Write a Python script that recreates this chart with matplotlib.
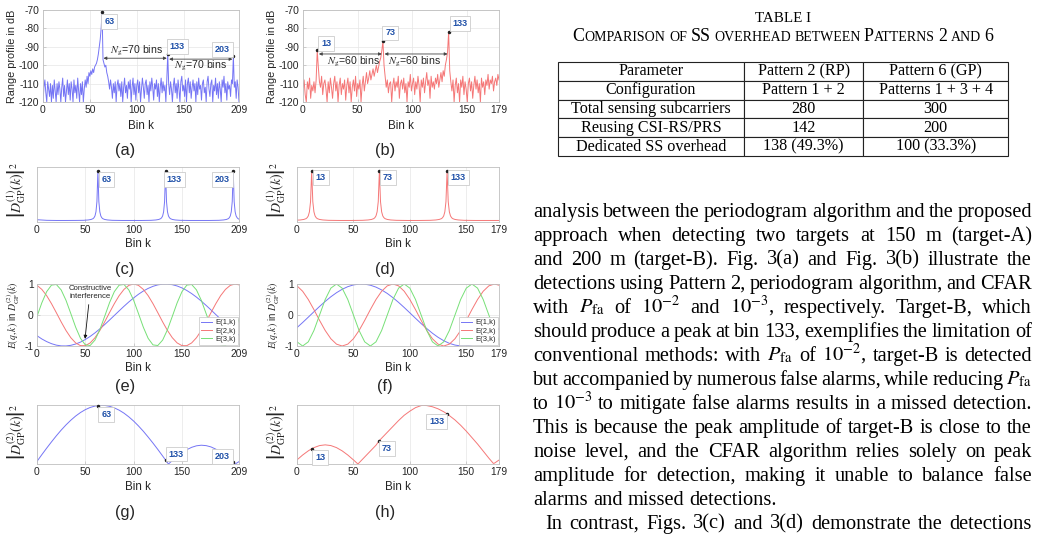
import numpy as np
import matplotlib
matplotlib.use("Agg")
import matplotlib.pyplot as plt

W, H = 1042, 535
plt.rcParams['font.family'] = ['Liberation Sans', 'DejaVu Sans']
plt.rcParams['mathtext.fontset'] = 'stix'
plt.rcParams['axes.unicode_minus'] = False

# ---------------------------------------------------------------- data
# (a) range profile, Pattern 2 (N = 210 bins), dB
range_a = [-120, -112, -108, -115, -120, -109, -113, -117, -110, -120,
           -111, -118, -108, -114, -120, -110, -116, -109, -113, -120,
           -112, -107, -117, -111, -120, -114, -108, -116, -110, -119,
           -109, -113, -120, -108, -115, -111, -118, -107, -114, -120,
           -110, -116, -109, -120, -113, -108, -112, -106, -110, -104,
           -106, -103, -105, -102, -104, -101, -100, -99, -97, -94,
           -90, -86, -80, -71, -97, -99, -101, -100, -104, -106,
           -109, -113, -108, -112, -118, -110, -115, -109, -120, -111,
           -108, -114, -110, -117, -109, -120, -112, -107, -115, -111,
           -118, -109, -113, -108, -120, -112, -107, -116, -110, -119,
           -111, -108, -115, -109, -120, -113, -107, -112, -118, -110,
           -108, -116, -111, -120, -109, -114, -107, -112, -119, -110,
           -113, -108, -117, -110, -120, -112, -107, -115, -109, -114,
           -111, -120, -108, -94, -110, -116, -109, -113, -120, -111,
           -107, -115, -110, -118, -108, -113, -120, -109, -106, -114,
           -111, -117, -108, -120, -110, -107, -115, -109, -118, -112,
           -108, -114, -110, -120, -109, -116, -107, -113, -111, -119,
           -110, -108, -115, -112, -120, -109, -106, -113, -117, -110,
           -108, -120, -111, -114, -107, -116, -110, -118, -109, -113,
           -120, -108, -112, -106, -115, -110, -119, -109, -113, -111,
           -117, -108, -110, -95, -112, -109, -118, -108, -112, -120]
peaks_a = [63, 133, 203]

# (b) range profile, N = 180 bins, dB
range_b = [-112, -108, -116, -120, -109, -113, -107, -118, -111, -114,
           -109, -115, -108, -92, -101, -109, -112, -106, -116, -110,
           -108, -113, -120, -109, -115, -107, -112, -118, -110, -106,
           -114, -109, -120, -111, -107, -116, -110, -113, -108, -119,
           -111, -107, -115, -109, -120, -112, -108, -114, -106, -117,
           -110, -113, -108, -120, -111, -106, -114, -109, -104, -110,
           -107, -103, -108, -105, -102, -106, -103, -100, -104, -101,
           -98, -96, -92, -87, -100, -106, -112, -108, -115, -110,
           -109, -120, -111, -107, -114, -109, -112, -106, -118, -110,
           -108, -113, -107, -115, -110, -120, -109, -112, -105, -114,
           -110, -107, -116, -109, -113, -106, -111, -120, -108, -112,
           -107, -115, -109, -104, -111, -108, -118, -106, -112, -109,
           -113, -107, -110, -105, -112, -108, -104, -109, -103, -106,
           -100, -97, -93, -82, -103, -109, -114, -108, -120, -111,
           -107, -115, -110, -120, -108, -112, -106, -116, -109, -113,
           -120, -110, -107, -114, -109, -118, -111, -106, -113, -108,
           -115, -110, -120, -107, -112, -109, -116, -108, -111, -105,
           -113, -108, -110, -106, -114, -109, -107, -111, -105, -108]
peaks_b = [13, 73, 133]

# (c) |D_GP^(1)(k)|^2, N = 210 (normalised)
bins_c = [0, 10, 20, 30, 40, 48, 53, 56, 58, 59, 60, 61, 62, 63, 64, 65, 66, 67, 68,
          70, 73, 78, 88, 98, 108, 118, 123, 126, 128, 129, 130, 131, 132, 133, 134,
          135, 136, 137, 138, 140, 143, 148, 158, 168, 178, 188, 193, 196, 198, 199,
          200, 201, 202, 203, 204, 205, 206, 207, 208, 209]
vals_c = [0.045, 0.033, 0.03, 0.03, 0.031, 0.033, 0.04, 0.05, 0.066, 0.085, 0.12, 0.20,
          0.40, 1.0, 0.40, 0.20, 0.12, 0.085, 0.066, 0.05, 0.04, 0.033, 0.03, 0.03,
          0.03, 0.033, 0.04, 0.05, 0.066, 0.085, 0.12, 0.20, 0.40, 1.0, 0.40, 0.20,
          0.12, 0.085, 0.066, 0.05, 0.04, 0.033, 0.03, 0.03, 0.03, 0.033, 0.04, 0.05,
          0.066, 0.085, 0.12, 0.20, 0.40, 1.0, 0.40, 0.20, 0.12, 0.085, 0.066, 0.055]

# (d) |D_GP^(1)(k)|^2, N = 180 (normalised)
bins_d = [0, 3, 6, 8, 9, 10, 11, 12, 13, 14, 15, 16, 17, 18, 20, 23, 28, 38, 48, 58,
          63, 66, 68, 69, 70, 71, 72, 73, 74, 75, 76, 77, 78, 80, 83, 88, 98, 108,
          118, 123, 126, 128, 129, 130, 131, 132, 133, 134, 135, 136, 137, 138, 140,
          143, 148, 158, 168, 179]
vals_d = [0.036, 0.04, 0.05, 0.066, 0.085, 0.12, 0.20, 0.40, 1.0, 0.40, 0.20, 0.12,
          0.085, 0.066, 0.05, 0.04, 0.033, 0.03, 0.03, 0.033, 0.04, 0.05, 0.066,
          0.085, 0.12, 0.20, 0.40, 1.0, 0.40, 0.20, 0.12, 0.085, 0.066, 0.05, 0.04,
          0.033, 0.03, 0.03, 0.033, 0.04, 0.05, 0.066, 0.085, 0.12, 0.20, 0.40, 1.0,
          0.40, 0.20, 0.12, 0.085, 0.066, 0.05, 0.04, 0.033, 0.03, 0.03, 0.03]

# (e) E(q,k), N = 210
bins_e = [0, 5, 10, 15, 20, 25, 30, 35, 40, 45, 50, 55, 60, 65, 70, 75, 80, 85, 90, 95,
          100, 105, 110, 115, 120, 125, 130, 135, 140, 145, 150, 155, 160, 165, 170,
          175, 180, 185, 190, 195, 200, 205, 209]
e1_e = [-0.669, -0.773, -0.858, -0.925, -0.972, -0.996, -0.998, -0.978, -0.936, -0.874,
        -0.791, -0.691, -0.576, -0.448, -0.309, -0.164, -0.015, 0.134, 0.281, 0.421,
        0.551, 0.669, 0.773, 0.858, 0.925, 0.972, 0.996, 0.998, 0.978, 0.936,
        0.874, 0.791, 0.691, 0.576, 0.448, 0.309, 0.164, 0.015, -0.134, -0.281,
        -0.421, -0.551, -0.647]
e2_e = [0.956, 0.826, 0.624, 0.365, 0.075, -0.223, -0.5, -0.733, -0.901, -0.989,
        -0.989, -0.901, -0.733, -0.5, -0.223, 0.075, 0.365, 0.624, 0.826, 0.956,
        1.0, 0.956, 0.826, 0.624, 0.365, 0.075, -0.223, -0.5, -0.733, -0.901,
        -0.989, -0.989, -0.901, -0.733, -0.5, -0.223, 0.075, 0.365, 0.624, 0.826,
        0.956, 1.0, 0.972]
e3_e = [-0.045, 0.393, 0.753, 0.964, 0.984, 0.809, 0.474, 0.045, -0.393, -0.753,
        -0.964, -0.984, -0.809, -0.474, -0.045, 0.393, 0.753, 0.964, 0.984, 0.809,
        0.474, 0.045, -0.393, -0.753, -0.964, -0.984, -0.809, -0.474, -0.045, 0.393,
        0.753, 0.964, 0.984, 0.809, 0.474, 0.045, -0.393, -0.753, -0.964, -0.984,
        -0.809, -0.474, -0.134]

# (f) E(q,k), N = 180
bins_f = [0, 5, 10, 15, 20, 25, 30, 35, 40, 45, 50, 55, 60, 65, 70, 75, 80, 85, 90, 95,
          100, 105, 110, 115, 120, 125, 130, 135, 140, 145, 150, 155, 160, 165, 170,
          175, 179]
e1_f = [-0.407, -0.242, -0.070, 0.105, 0.276, 0.438, 0.588, 0.719, 0.829, 0.914,
        0.970, 0.998, 0.995, 0.961, 0.899, 0.809, 0.695, 0.559, 0.407, 0.242,
        0.070, -0.105, -0.276, -0.438, -0.588, -0.719, -0.829, -0.914, -0.970, -0.998,
        -0.995, -0.961, -0.899, -0.809, -0.695, -0.559, -0.438]
e2_f = [0.940, 0.766, 0.5, 0.174, -0.174, -0.5, -0.766, -0.940, -1.0, -0.940,
        -0.766, -0.5, -0.174, 0.174, 0.5, 0.766, 0.940, 1.0, 0.940, 0.766,
        0.5, 0.174, -0.174, -0.5, -0.766, -0.940, -1.0, -0.940, -0.766, -0.5,
        -0.174, 0.174, 0.5, 0.766, 0.940, 1.0, 0.961]
e3_f = [-0.866, -1.0, -0.866, -0.5, 0.0, 0.5, 0.866, 1.0, 0.866, 0.5,
        0.0, -0.5, -0.866, -1.0, -0.866, -0.5, 0.0, 0.5, 0.866, 1.0,
        0.866, 0.5, 0.0, -0.5, -0.866, -1.0, -0.866, -0.5, 0.0, 0.5,
        0.866, 1.0, 0.866, 0.5, 0.0, -0.5, -0.809]
legend_e = ['E(1,k)', 'E(2,k)', 'E(3,k)']

# (g) |D_GP^(2)(k)|^2, N = 210
bins_g = [0, 5, 10, 15, 20, 25, 30, 35, 40, 45, 50, 55, 60, 63, 65, 70, 75, 80, 85, 90,
          95, 100, 105, 110, 115, 120, 125, 130, 133, 136, 140, 145, 150, 155, 160, 165,
          170, 175, 180, 185, 190, 195, 200, 203, 205, 209]
vals_g = [0.045, 0.159, 0.270, 0.377, 0.480, 0.577, 0.666, 0.746, 0.817, 0.877, 0.926,
          0.963, 0.987, 0.996, 0.999, 0.998, 0.983, 0.956, 0.917, 0.866, 0.803, 0.731,
          0.648, 0.558, 0.459, 0.356, 0.248, 0.136, 0.068, 0.0, 0.058, 0.128, 0.190,
          0.244, 0.284, 0.310, 0.320, 0.313, 0.291, 0.253, 0.202, 0.141, 0.072, 0.029,
          0.0, 0.04]

# (h) |D_GP^(2)(k)|^2, N = 180
bins_h = [0, 5, 10, 13, 15, 20, 25, 30, 35, 40, 45, 50, 54, 55, 60, 65, 70, 73, 75, 80,
          85, 90, 95, 100, 105, 110, 112, 115, 120, 125, 130, 133, 135, 140, 145, 150,
          155, 160, 165, 170, 174, 175, 179]
vals_h = [0.07, 0.153, 0.224, 0.26, 0.279, 0.314, 0.326, 0.314, 0.279, 0.224, 0.153,
          0.07, 0.0, 0.02, 0.12, 0.22, 0.32, 0.40, 0.44, 0.54, 0.64, 0.74, 0.83, 0.90,
          0.96, 0.995, 1.0, 0.995, 0.975, 0.94, 0.89, 0.854, 0.825, 0.75, 0.66, 0.56,
          0.45, 0.34, 0.22, 0.10, 0.01, 0.015, 0.067]

xticks_210 = [0, 50, 100, 150, 209]
xticks_180 = [0, 50, 100, 150, 179]
yticks_db = [-120, -110, -100, -90, -80, -70]

# table
table_header = ['Parameter', 'Pattern 2 (RP)', 'Pattern 6 (GP)']
table_rows = [['Configuration', 'Pattern 1 + 2', 'Patterns 1 + 3 + 4'],
              ['Total sensing subcarriers', '280', '300'],
              ['Reusing CSI-RS/PRS', '142', '200'],
              ['Dedicated SS overhead', '138 (49.3%)', '100 (33.3%)']]
table_title = 'TABLE I'
table_subtitle = 'Comparison of SS overhead between Patterns 2 and 6'

PFA = r'$P_{\mathrm{fa}}$'
para_lines = [
    "analysis between the periodogram algorithm and the proposed",
    "approach when detecting two targets at 150 m (target-A)",
    "and 200 m (target-B). Fig. 3(a) and Fig. 3(b) illustrate the",
    "detections using Pattern 2, periodogram algorithm, and CFAR",
    "with " + PFA + r" of $10^{-2}$ and $10^{-3}$, respectively. Target-B, which",
    "should produce a peak at bin 133, exemplifies the limitation of",
    "conventional methods: with " + PFA + r" of $10^{-2}$, target-B is detected",
    "but accompanied by numerous false alarms, while reducing " + PFA,
    r"to $10^{-3}$ to mitigate false alarms results in a missed detection.",
    "This is because the peak amplitude of target-B is close to the",
    "noise level, and the CFAR algorithm relies solely on peak",
    "amplitude for detection, making it unable to balance false",
    "alarms and missed detections.",
    "In contrast, Figs. 3(c) and 3(d) demonstrate the detections",
]

# ---------------------------------------------------------------- style
BLUE = '#7575f5'
RED = '#f57777'
GREEN = '#77e077'
SPINE = '#bfbfbf'
TIPC = '#1f50a8'
TICKFS = 7.4
LABFS = 7.8
BINFS = 8.4

fig = plt.figure(figsize=(W / 100, H / 100), dpi=100)
R = fig.canvas.get_renderer()


def fx(x):
    return x / W


def fy(y):
    return 1 - y / H


def add_ax(x0, y0, x1, y1):
    ax = fig.add_axes([fx(x0), fy(y1), (x1 - x0) / W, (y1 - y0) / H])
    for s in ax.spines.values():
        s.set_color(SPINE)
        s.set_linewidth(0.6)
    ax.tick_params(direction='in', length=2, width=0.5, color=SPINE,
                   labelsize=TICKFS, labelcolor='#262626', pad=2.5)
    ax.grid(True, color='#e6e6e6', lw=0.5)
    ax.set_axisbelow(True)
    return ax


def datatip(ax, x, y, label, off):
    ax.plot([x], [y], 'o', ms=1.5, color='#222222', zorder=6, clip_on=False)
    ax.annotate(str(label), (x, y), xytext=off, textcoords='offset points',
                ha='center', va='center', fontsize=6.5, fontweight='bold',
                color=TIPC, zorder=7, annotation_clip=False,
                bbox=dict(boxstyle='square,pad=0.32', fc='white', ec='#cccccc', lw=0.6))


def flabel(x, y, s, size=LABFS, rot=0, **kw):
    return fig.text(fx(x), fy(y), s, fontsize=size, rotation=rot,
                    ha='center', va='center', color='#262626', **kw)


def gap_arrows(ax, peaks, ys, label_pos):
    for i in range(len(peaks) - 1):
        p0, p1 = peaks[i], peaks[i + 1]
        ax.annotate('', xy=(p1 - 1, ys[i]), xytext=(p0 + 1.5, ys[i]),
                    arrowprops=dict(arrowstyle='<|-|>', color='#444444', lw=0.6,
                                    mutation_scale=4.5, shrinkA=0, shrinkB=0))
        ax.text(label_pos[i][0], label_pos[i][1],
                r'$N_{\mathrm{g}}$' + '=%d bins' % (p1 - p0),
                fontsize=7.6, ha='center', va='center', color='#262626')


# ---------------------------------------------------------------- (a)
ax = add_ax(43, 10, 239, 102)
ax.plot(np.arange(len(range_a)), range_a, color=BLUE, lw=0.7)
ax.set_xlim(0, 209)
ax.set_ylim(-120, -70)
ax.set_xticks(xticks_210)
ax.set_yticks(yticks_db)
gap_arrows(ax, peaks_a, [-96.2, -96.7], [(100, -92.0), (168, -100.4)])
for p, off in zip(peaks_a, [(5.3, -7.2), (7.0, 5.3), (-7.9, 4.7)]):
    datatip(ax, p, range_a[p], p, off)
flabel(12, 56, 'Range profile in dB', rot=90)
flabel(141, 126, 'Bin k', size=BINFS)
flabel(125, 150, '(a)', size=11.8)

# ---------------------------------------------------------------- (b)
ax = add_ax(303, 10, 499, 102)
ax.plot(np.arange(len(range_b)), range_b, color=RED, lw=0.7)
ax.set_xlim(0, 179)
ax.set_ylim(-120, -70)
ax.set_xticks(xticks_180)
ax.set_yticks(yticks_db)
gap_arrows(ax, peaks_b, [-93.9, -93.9], [(46, -98.3), (102, -98.3)])
for p, off in zip(peaks_b, [(6.3, 5.0), (5.3, 6.0), (8.2, 6.0)]):
    datatip(ax, p, range_b[p], p, off)
flabel(272, 56, 'Range profile in dB', rot=90)
flabel(401, 126, 'Bin k', size=BINFS)
flabel(385, 150, '(b)', size=11.8)

D1 = r'$\left|D^{(1)}_{\mathrm{GP}}(k)\right|^2$'
D2 = r'$\left|D^{(2)}_{\mathrm{GP}}(k)\right|^2$'
DFS = 10.0

# ---------------------------------------------------------------- (c)
ax = add_ax(37, 167, 239, 222)
ax.plot(bins_c, vals_c, color=BLUE, lw=0.7)
ax.set_xlim(0, 209)
ax.set_ylim(0, 1.08)
ax.set_xticks(xticks_210)
ax.set_yticks([])
for p, off in zip(peaks_a, [(6.2, -5.8), (6.2, -5.8), (-7.7, -5.8)]):
    datatip(ax, p, vals_c[bins_c.index(p)], p, off)
flabel(17, 190, D1, size=DFS, rot=90)
flabel(138, 244, 'Bin k', size=BINFS)
flabel(125, 270, '(c)', size=11.8)

# ---------------------------------------------------------------- (d)
ax = add_ax(297, 167, 499, 222)
ax.plot(bins_d, vals_d, color=RED, lw=0.7)
ax.set_xlim(0, 179)
ax.set_ylim(0, 1.08)
ax.set_xticks(xticks_180)
ax.set_yticks([])
for p, off in zip(peaks_b, [(6.7, -4.6), (6.0, -4.6), (8.0, -4.6)]):
    datatip(ax, p, vals_d[bins_d.index(p)], p, off)
flabel(277, 190, D1, size=DFS, rot=90)
flabel(398, 244, 'Bin k', size=BINFS)
flabel(385, 270, '(d)', size=11.8)

ELAB = r'$E(q,k)$ in $D^{(2)}_{\mathrm{GP}}(k)$'


def e_panel(ax, bins, e1, e2, e3, nmax, ticks):
    for vals, c, lab in zip([e1, e2, e3], [BLUE, RED, GREEN], legend_e):
        ax.plot(bins, vals, color=c, lw=0.7, label=lab)
    ax.set_xlim(0, nmax)
    ax.set_ylim(-1, 1)
    ax.set_xticks(ticks)
    ax.set_yticks([-1, 0, 1])
    leg = ax.legend(loc='lower right', fontsize=5.5, handlelength=1.5,
                    handletextpad=0.4, borderpad=0.25, labelspacing=0.12,
                    borderaxespad=0.15, fancybox=False, framealpha=1,
                    edgecolor='#c4c4c4')
    leg.get_frame().set_linewidth(0.5)
    for t in leg.get_texts():
        t.set_color('#262626')


# ---------------------------------------------------------------- (e)
ax = add_ax(37, 284, 239, 346)
e_panel(ax, bins_e, e1_e, e2_e, e3_e, 209, xticks_210)
ax.annotate('Constructive\ninterference', xy=(49.7, -0.77), xytext=(54.8, 0.71),
            fontsize=5.6, ha='center', va='center', color='#262626',
            arrowprops=dict(arrowstyle='-|>', color='#111111', lw=0.6,
                            mutation_scale=5, shrinkA=1, shrinkB=0))
flabel(13, 315, ELAB, size=7.0, rot=90)
flabel(138, 368, 'Bin k', size=BINFS)
flabel(125, 387, '(e)', size=11.8)

# ---------------------------------------------------------------- (f)
ax = add_ax(297, 284, 499, 346)
e_panel(ax, bins_f, e1_f, e2_f, e3_f, 179, xticks_180)
flabel(273, 315, ELAB, size=7.0, rot=90)
flabel(398, 368, 'Bin k', size=BINFS)
flabel(385, 387, '(f)', size=11.8)

# ---------------------------------------------------------------- (g)
ax = add_ax(37, 405, 239, 464)
ax.plot(bins_g, vals_g, color=BLUE, lw=0.7)
ax.set_xlim(0, 209)
ax.set_ylim(0, 1.005)
ax.set_xticks(xticks_210)
ax.set_yticks([])
for p, off in zip(peaks_a, [(6.0, -6.7), (7.7, 4.3), (-7.9, 4.3)]):
    datatip(ax, p, vals_g[bins_g.index(p)], p, off)
flabel(17, 432, D2, size=DFS, rot=90)
flabel(138, 487, 'Bin k', size=BINFS)
flabel(125, 513, '(g)', size=11.8)

# ---------------------------------------------------------------- (h)
ax = add_ax(297, 405, 499, 464)
ax.plot(bins_h, vals_h, color=RED, lw=0.7)
ax.set_xlim(0, 179)
ax.set_ylim(0, 1.005)
ax.set_xticks(xticks_180)
ax.set_yticks([])
for p, off in zip(peaks_b, [(6.0, -6.5), (5.5, -5.5), (-7.4, -5.3)]):
    datatip(ax, p, vals_h[bins_h.index(p)], p, off)
flabel(277, 432, D2, size=DFS, rot=90)
flabel(398, 487, 'Bin k', size=BINFS)
flabel(385, 513, '(h)', size=11.8)

# ---------------------------------------------------------------- table
SERIF = 'Liberation Serif'
fig.text(fx(783), fy(18), table_title, fontsize=10.8, family=SERIF,
         ha='center', va='center')


def width_of(t):
    return t.get_window_extent(renderer=R).width


def small_caps(text, xc, y, big, small, target_w):
    words = text.split(' ')
    pieces = []
    for w in words:
        runs = []
        for ch in w:
            isbig = ch.isupper() or ch.isdigit()
            c = ch.upper()
            if runs and runs[-1][1] == isbig:
                runs[-1][0] += c
            else:
                runs.append([c, isbig])
        pieces.append(runs)

    def layout(scale):
        objs = []
        for runs in pieces:
            wobjs = []
            for s, isbig in runs:
                t = fig.text(0, fy(y), s, fontsize=(big if isbig else small) * scale,
                             family=SERIF, ha='left', va='baseline')
                wobjs.append(t)
            objs.append(wobjs)
        sp = fig.text(0, 0, 'x x', fontsize=small * scale, family=SERIF)
        sp2 = fig.text(0, 0, 'xx', fontsize=small * scale, family=SERIF)
        space = width_of(sp) - width_of(sp2)
        sp.remove()
        sp2.remove()
        widths = [[width_of(t) for t in wo] for wo in objs]
        total = sum(sum(ws) for ws in widths) + space * (len(objs) - 1)
        return objs, widths, space, total

    objs, widths, space, total = layout(1.0)
    for wo in objs:
        for t in wo:
            t.remove()
    objs, widths, space, total = layout(target_w / total)
    x = xc - total / 2
    for wo, ws in zip(objs, widths):
        for t, w in zip(wo, ws):
            t.set_x(fx(x))
            x += w
        x += space


small_caps(table_subtitle, 783, 41, 10.6, 8.2, 419)

tax = fig.add_axes([fx(558), fy(156), (1008 - 558) / W, (156 - 62) / H])
tax.axis('off')
tbl = tax.table(cellText=[table_header] + table_rows, cellLoc='center',
                colWidths=[186 / 450, 119.3 / 450, 144.7 / 450], bbox=[0, 0, 1, 1])
tbl.auto_set_font_size(False)
for (r, c), cell in tbl.get_celld().items():
    cell.set_linewidth(0.8)
    cell.set_edgecolor('#222222')
    cell.get_text().set_fontfamily(SERIF)
    cell.get_text().set_fontsize(11.6)

# ---------------------------------------------------------------- paragraph
LEFT, RIGHT = 533, 1032
BASE0, LEAD = 216.7, 24.0
INDENT = 12


def make_words(line, size):
    return [fig.text(0, 0, w, fontsize=size, family=SERIF, ha='left',
                     va='baseline', color='black') for w in line.split(' ')]


def space_width(size):
    a = fig.text(0, 0, 'x x', fontsize=size, family=SERIF)
    b = fig.text(0, 0, 'xx', fontsize=size, family=SERIF)
    s = width_of(a) - width_of(b)
    a.remove()
    b.remove()
    return s


fs0 = 13.0
tmp = make_words(para_lines[12], fs0)
nat = sum(width_of(t) for t in tmp) + space_width(fs0) * (len(tmp) - 1)
for t in tmp:
    t.remove()
PFS = fs0 * 243.0 / nat
SPACE = space_width(PFS)

for i, line in enumerate(para_lines):
    y = BASE0 + i * LEAD
    x0 = LEFT + (INDENT if i == 13 else 0)
    ts = make_words(line, PFS)
    ws = [width_of(t) for t in ts]
    if i == 12:
        gap = SPACE
    else:
        gap = (RIGHT - x0 - sum(ws)) / (len(ws) - 1)
    x = x0
    for t, w in zip(ts, ws):
        t.set_position((fx(x), fy(y)))
        x += w + gap

fig.savefig('out.png', dpi=100)
